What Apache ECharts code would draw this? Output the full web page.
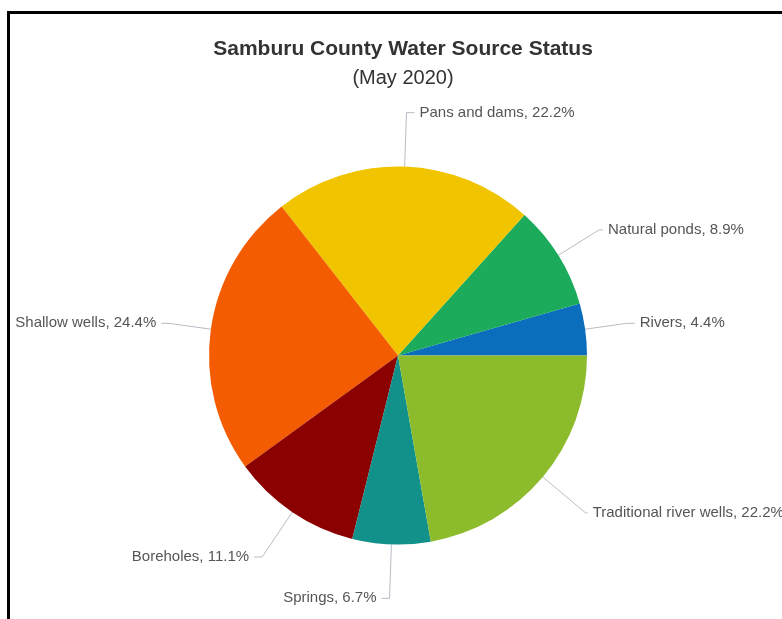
<!DOCTYPE html>
<html>
<head>
<meta charset="utf-8">
<script src="https://cdn.jsdelivr.net/npm/echarts@6/dist/echarts.min.js"></script>
<style>
    html, body { margin: 0; padding: 0; background: #fff; }
    #frame { position: absolute; left: 7px; top: 11px; width: 900px; height: 700px;
             border-left: 3px solid #000; border-top: 3px solid #000; }
    #chart { position: absolute; left: 0; top: 0; width: 782px; height: 619px; }
</style>
</head>
<body>
<div id="frame"></div>
<div id="chart"></div>
<script>
// water sources, counter-clockwise from 3 o'clock
var sources = ['Rivers', 'Natural ponds', 'Pans and dams', 'Shallow wells',
               'Boreholes', 'Springs', 'Traditional river wells'];
var counts = [2, 4, 10, 11, 5, 3, 10];
var colors = ['#0a6ebd', '#1bab5a', '#f1c400', '#f35c00', '#8b0000', '#11918a', '#8cbb2c'];
// label line lengths per slice [length, length2]
var lineLens = [[42, 8], [48, 4], [54, 8], [42, 8], [54, 8], [54, 8], [56, 2]];

var myChart = echarts.init(document.getElementById('chart'));

var total = 0;
var pieData = [];
for (var i = 0; i < sources.length; i++) {
    total += counts[i];
    pieData.push({
        name: sources[i],
        value: counts[i],
        itemStyle: { color: colors[i] },
        labelLine: { length: lineLens[i][0], length2: lineLens[i][1] }
    });
}

myChart.setOption({
    animation: false,
    title: {
        text: 'Samburu County Water Source Status',
        subtext: '(May 2020)',
        left: 398,
        textAlign: 'center',
        top: 34,
        itemGap: 8,
        textStyle: { fontFamily: 'Liberation Sans', fontSize: 21, fontWeight: 'bold', color: '#333' },
        subtextStyle: { fontFamily: 'Liberation Sans', fontSize: 20, color: '#333' }
    },
    series: [{
        type: 'pie',
        center: [398, 355.5],
        radius: 189,
        startAngle: 0,
        clockwise: false,
        data: pieData,
        itemStyle: { borderWidth: 0 },
        label: {
            // plain rounding, not the largest remainder ECharts uses for {d}
            formatter: function (p) {
                return p.name + ', ' + (p.value / total * 100).toFixed(1) + '%';
            },
            fontFamily: 'Liberation Sans',
            fontSize: 15,
            color: '#555',
            padding: [5, 0, 0, 0],
            overflow: 'none'
        },
        labelLine: {
            lineStyle: { color: '#b8bcc4', width: 1 }
        }
    }]
});
</script>
</body>
</html>
